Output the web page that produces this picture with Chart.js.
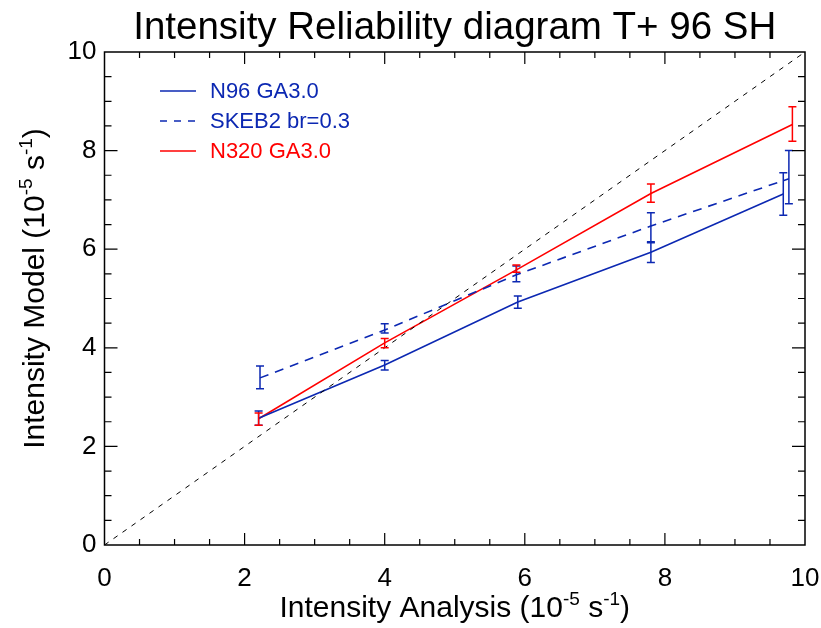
<!DOCTYPE html>
<html><head><meta charset="utf-8">
<script src="https://cdn.jsdelivr.net/npm/chart.js@4/dist/chart.umd.min.js"></script>
<style>html,body{margin:0;padding:0;background:#fff}#wrap{width:821px;height:628px}</style>
</head><body><div id="wrap"><canvas id="c" width="821" height="628"></canvas></div>
<script>
// ---- data ----
const seriesLabels = ['N96 GA3.0', 'SKEB2 br=0.3', 'N320 GA3.0'];
const xN96   = [2.20, 4.00, 5.90, 7.80, 9.69];
const yN96   = [2.57, 3.65, 4.93, 5.94, 7.12];
const loN96  = [2.43, 3.55, 4.80, 5.73, 6.69];
const hiN96  = [2.72, 3.74, 5.05, 6.15, 7.55];

const xSKEB  = [2.22, 4.00, 5.88, 7.80, 9.77];
const ySKEB  = [3.39, 4.36, 5.48, 6.47, 7.43];
const loSKEB = [3.17, 4.30, 5.34, 6.13, 6.92];
const hiSKEB = [3.63, 4.49, 5.66, 6.74, 8.00];

const xN320  = [2.20, 4.00, 5.88, 7.80, 9.82];
const yN320  = [2.56, 4.10, 5.58, 7.13, 8.53];
const loN320 = [2.43, 4.00, 5.53, 6.95, 8.19];
const hiN320 = [2.68, 4.19, 5.68, 7.32, 8.89];

const diagX = [0, 10];
const diagY = [0, 10];

const xTicks = [0, 2, 4, 6, 8, 10];
const yTicks = [0, 2, 4, 6, 8, 10];

const titleText = 'Intensity Reliability diagram T+ 96 SH';
const xTitleParts = [['Intensity Analysis (10', 0], ['-5', 1], [' s', 0], ['-1', 1], [')', 0]];
const yTitleParts = [['Intensity Model (10', 0], ['-5', 1], [' s', 0], ['-1', 1], [')', 0]];

// ---- styles ----
const FONT = '"Liberation Sans", Arial, Helvetica, sans-serif';
const BLUE = 'rgb(12,40,178)';
const RED = 'rgb(255,0,0)';

const pts = (xs, ys) => xs.map((x, i) => ({x: x, y: ys[i]}));

const errSets = [
  {x: xN96, lo: loN96, hi: hiN96, color: BLUE},
  {x: xSKEB, lo: loSKEB, hi: hiSKEB, color: BLUE},
  {x: xN320, lo: loN320, hi: hiN320, color: RED}
];

function drawRich(ctx, parts, size, supSize, rise) {
  let total = 0;
  parts.forEach(p => { ctx.font = (p[1] ? supSize : size) + 'px ' + FONT; total += ctx.measureText(p[0]).width; });
  let x = -total / 2;
  parts.forEach(p => {
    ctx.font = (p[1] ? supSize : size) + 'px ' + FONT;
    ctx.fillText(p[0], x, p[1] ? -rise : 0);
    x += ctx.measureText(p[0]).width;
  });
}

const decor = {
  id: 'decor',
  afterDatasetsDraw(chart) {
    const ctx = chart.ctx, xs = chart.scales.x, ys = chart.scales.y, a = chart.chartArea;
    ctx.save();
    // error bars
    errSets.forEach(s => {
      ctx.strokeStyle = s.color; ctx.lineWidth = 1.5;
      s.x.forEach((xv, i) => {
        const px = xs.getPixelForValue(xv);
        const p1 = ys.getPixelForValue(s.lo[i]), p2 = ys.getPixelForValue(s.hi[i]);
        ctx.beginPath();
        ctx.moveTo(px, p1); ctx.lineTo(px, p2);
        ctx.moveTo(px - 4, p1); ctx.lineTo(px + 4, p1);
        ctx.moveTo(px - 4, p2); ctx.lineTo(px + 4, p2);
        ctx.stroke();
      });
    });
    // frame
    ctx.strokeStyle = '#000'; ctx.lineWidth = 1.5;
    ctx.strokeRect(a.left, a.top, a.right - a.left, a.bottom - a.top);
    // inward ticks on all sides
    ctx.lineWidth = 1.2;
    ctx.beginPath();
    for (let v = 0.5; v < 10; v += 0.5) {
      const major = Math.abs(v / 2 - Math.round(v / 2)) < 1e-6;
      const px = xs.getPixelForValue(v);
      const lx = major ? 12 : 6;
      ctx.moveTo(px, a.bottom); ctx.lineTo(px, a.bottom - lx);
      ctx.moveTo(px, a.top); ctx.lineTo(px, a.top + lx);
      const py = ys.getPixelForValue(v);
      const ly = major ? 13 : 7;
      ctx.moveTo(a.left, py); ctx.lineTo(a.left + ly, py);
      ctx.moveTo(a.right, py); ctx.lineTo(a.right - ly, py);
    }
    ctx.stroke();
    // legend
    const legColors = [BLUE, BLUE, RED];
    const legDash = [[], [7, 7], []];
    const legY = [91, 121, 151];
    seriesLabels.forEach((lab, i) => {
      ctx.strokeStyle = legColors[i]; ctx.lineWidth = 1.5;
      ctx.setLineDash(legDash[i]);
      ctx.beginPath(); ctx.moveTo(160, legY[i]); ctx.lineTo(196, legY[i]); ctx.stroke();
      ctx.setLineDash([]);
      ctx.fillStyle = legColors[i];
      ctx.font = '22px ' + FONT;
      ctx.textBaseline = 'middle'; ctx.textAlign = 'left';
      ctx.fillText(lab, 210, legY[i] + 1);
    });
    // title
    ctx.fillStyle = '#000';
    ctx.textBaseline = 'alphabetic'; ctx.textAlign = 'left';
    ctx.save();
    ctx.translate((a.left + a.right) / 2, 39);
    drawRich(ctx, [[titleText, 0]], 38.5, 38.5, 0);
    ctx.restore();
    // x title
    ctx.save();
    ctx.translate((a.left + a.right) / 2, 617);
    drawRich(ctx, xTitleParts, 30, 19, 12);
    ctx.restore();
    // y title
    ctx.save();
    ctx.translate(44, (a.top + a.bottom) / 2 - 10);
    ctx.rotate(-Math.PI / 2);
    drawRich(ctx, yTitleParts, 30, 19, 12);
    ctx.restore();
    ctx.restore();
  }
};

new Chart(document.getElementById('c'), {
  type: 'scatter',
  data: {
    datasets: [
      {label: 'diag', data: pts(diagX, diagY), showLine: true, borderColor: '#000', borderWidth: 1, borderDash: [5, 6], pointRadius: 0},
      {label: seriesLabels[0], data: pts(xN96, yN96), showLine: true, borderColor: BLUE, borderWidth: 1.6, pointRadius: 0},
      {label: seriesLabels[1], data: pts(xSKEB, ySKEB), showLine: true, borderColor: BLUE, borderWidth: 1.6, borderDash: [9, 7], pointRadius: 0},
      {label: seriesLabels[2], data: pts(xN320, yN320), showLine: true, borderColor: RED, borderWidth: 1.6, pointRadius: 0}
    ]
  },
  options: {
    responsive: false,
    animation: false,
    layout: {padding: {top: 52, right: 16, left: 0, bottom: 0}},
    plugins: {legend: {display: false}, tooltip: {enabled: false}, title: {display: false}},
    scales: {
      x: {
        type: 'linear', min: 0, max: 10,
        afterBuildTicks: s => { s.ticks = xTicks.map(v => ({value: v})); },
        afterFit: s => { s.height = 83; s.paddingLeft = 0; s.paddingRight = 0; },
        grid: {display: false, drawTicks: false},
        border: {display: false},
        ticks: {color: '#000', font: {family: FONT, size: 26}, padding: 18, maxRotation: 0, autoSkip: false}
      },
      y: {
        type: 'linear', min: 0, max: 10,
        afterBuildTicks: s => { s.ticks = yTicks.map(v => ({value: v})); },
        afterFit: s => { s.width = 104.5; s.paddingTop = 0; s.paddingBottom = 0; },
        grid: {display: false, drawTicks: false},
        border: {display: false},
        ticks: {color: '#000', font: {family: FONT, size: 26}, padding: 8, autoSkip: false}
      }
    }
  },
  plugins: [decor]
});
</script>
</body></html>
